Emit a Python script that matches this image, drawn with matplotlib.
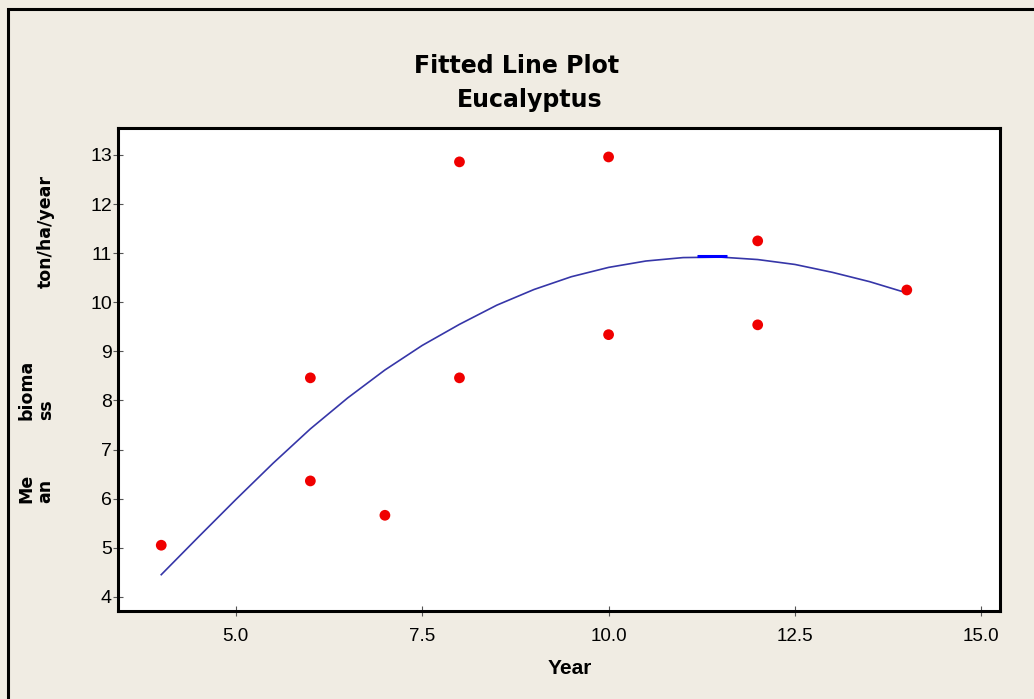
import matplotlib.pyplot as plt
from matplotlib.patches import Rectangle

# observed points (Year, mean biomass)
year = [4, 6, 6, 7, 8, 8, 10, 10, 12, 12, 14]
biomass = [5.05, 8.46, 6.36, 5.66, 12.86, 8.46, 12.96, 9.34, 11.25, 9.54, 10.25]

# fitted curve
fit_year = [4, 4.5, 5, 5.5, 6, 6.5, 7, 7.5, 8, 8.5, 9, 9.5, 10,
            10.5, 11, 11.5, 12, 12.5, 13, 13.5, 14]
fit_biomass = [4.45, 5.22, 5.98, 6.72, 7.42, 8.05, 8.62, 9.12, 9.55, 9.94,
               10.26, 10.52, 10.71, 10.84, 10.91, 10.92, 10.87, 10.77,
               10.61, 10.42, 10.19]

# small highlight dash near the peak of the curve
peak_year = [11.19, 11.59]
peak_biomass = [10.94, 10.94]

x_ticks = [5.0, 7.5, 10.0, 12.5, 15.0]
x_tick_labels = ["5.0", "7.5", "10.0", "12.5", "15.0"]
y_ticks = [4, 5, 6, 7, 8, 9, 10, 11, 12, 13]

W, H = 1034, 699
BG = "#F0ECE3"
NARROW = ["Liberation Sans", "DejaVu Sans"]


def px(x, y):
    return x / W, 1 - y / H


fig = plt.figure(figsize=(W / 100, H / 100), dpi=100, facecolor=BG)

# outer frame of the graph window
fig.patches.append(Rectangle((8 / W, -0.1), 1.2, 1 - 9.5 / H + 0.1,
                             transform=fig.transFigure, fill=False,
                             edgecolor="black", linewidth=2.2))

left, right, top, bottom = 118, 1000, 128, 611
ax = fig.add_axes([left / W, 1 - bottom / H, (right - left) / W, (bottom - top) / H])
ax.set_facecolor("white")

ax.plot(fit_year, fit_biomass, color="#3636A8", linewidth=1.2, zorder=2)
ax.plot(peak_year, peak_biomass, color="#0000FF", linewidth=2.2,
        solid_capstyle="butt", zorder=3)
ax.scatter(year, biomass, s=60, color="#F00000", edgecolors="none", zorder=4)

ax.set_xlim(3.42, 15.25)
ax.set_ylim(3.71, 13.55)
ax.set_xticks(x_ticks)
ax.set_xticklabels(x_tick_labels, family=NARROW, fontsize=13.5)
ax.set_yticks(y_ticks)
ax.set_yticklabels([str(v) for v in y_ticks], family=NARROW, fontsize=14)
ax.tick_params(axis="both", direction="inout", length=7, width=0.8,
               color="#555555")
ax.tick_params(axis="y", pad=1)
ax.tick_params(axis="x", pad=9)
for sp in ax.spines.values():
    sp.set_linewidth(2.2)
    sp.set_color("black")

fig.text(*px(516.5, 73), "Fitted Line Plot", ha="center", va="baseline",
         fontsize=17, fontweight="bold", family="DejaVu Sans")
fig.text(*px(530, 107), "Eucalyptus", ha="center", va="baseline",
         fontsize=17, fontweight="bold", family="DejaVu Sans")

fig.text(*px(570, 674), "Year", ha="center", va="baseline",
         fontsize=15, fontweight="bold", family=NARROW)

# broken y label, as in the original
ylab = dict(rotation=90, va="bottom", fontsize=12.5, fontweight="bold",
            family="DejaVu Sans", linespacing=1.1, multialignment="left")
fig.text(*px(36, 503), "Me\nan", ha="center", **ylab)
fig.text(*px(36, 420), "bioma\nss", ha="center", **ylab)
fig.text(*px(46, 288), "ton/ha/year", ha="center", **ylab)

fig.savefig("out.png", dpi=100, facecolor=BG)
